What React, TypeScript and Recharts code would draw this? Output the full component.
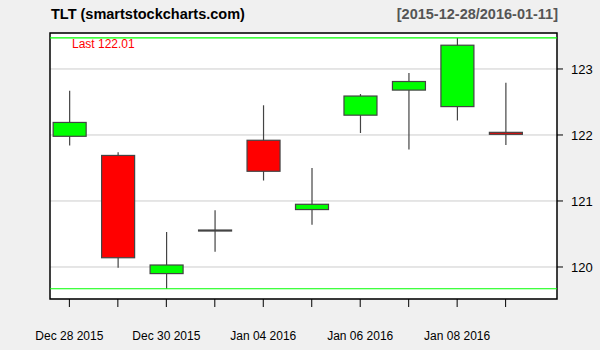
import {
  ComposedChart,
  Bar,
  XAxis,
  YAxis,
  CartesianGrid,
  ReferenceLine,
  ReferenceArea,
} from 'recharts';

const dates = [
  'Dec 28 2015', 'Dec 29 2015', 'Dec 30 2015', 'Dec 31 2015', 'Jan 04 2016',
  'Jan 05 2016', 'Jan 06 2016', 'Jan 07 2016', 'Jan 08 2016', 'Jan 11 2016',
];
const opens = [121.98, 121.69, 119.9, 120.56, 121.92, 120.87, 122.3, 122.68, 122.43, 122.04];
const highs = [122.67, 121.74, 120.53, 120.86, 122.45, 121.5, 122.62, 122.94, 123.47, 122.79];
const lows = [121.84, 119.99, 119.67, 120.23, 121.31, 120.64, 122.03, 121.78, 122.22, 121.85];
const closes = [122.19, 120.14, 120.03, 120.56, 121.45, 120.95, 122.59, 122.81, 123.36, 122.01];
const yTicks = [120, 121, 122, 123];
const xDomain: [number, number] = [-0.4, 10.06];
const yDomain: [number, number] = [119.515, 123.545];
const lastValue = 122.01;

const data = dates.map((d, i) => ({
  idx: i,
  date: d,
  open: opens[i],
  high: highs[i],
  low: lows[i],
  close: closes[i],
  range: [lows[i], highs[i]],
}));

const maxHigh = Math.max(...highs);
const minLow = Math.min(...lows);

const Candle = (props: any) => {
  const { x, y, width, height, payload } = props;
  if (x == null || y == null) return null;
  const { open, close, high, low } = payload;
  const top = Math.min(y, y + height);
  const h = Math.abs(height);
  const k = h / (high - low);
  const py = (v: number) => top + (high - v) * k;
  const cx = x + width / 2;
  const bTop = py(Math.max(open, close));
  const bBot = py(Math.min(open, close));
  const fill = close > open ? '#00ff00' : close < open ? '#ff0000' : '#444444';
  return (
    <g>
      <line x1={cx} x2={cx} y1={top} y2={top + h} stroke="#444" strokeWidth={1.2} />
      <rect
        x={x}
        y={bTop}
        width={width}
        height={Math.max(bBot - bTop, 1)}
        fill={fill}
        stroke="#444"
        strokeWidth={1.2}
      />
    </g>
  );
};

const font = '"Liberation Sans", Arial, sans-serif';

export default function App() {
  return (
    <div
      style={{
        position: 'fixed',
        left: 0,
        top: 0,
        width: 600,
        height: 350,
        background: '#f0f0f0',
        fontFamily: font,
      }}
    >
      <ComposedChart
        width={600}
        height={350}
        data={data}
        margin={{ top: 33, right: 0, left: 50, bottom: 0 }}
      >
        <CartesianGrid vertical={false} stroke="#cccccc" fill="#ffffff" />
        <XAxis
          dataKey="idx"
          type="number"
          domain={xDomain}
          allowDataOverflow
          ticks={dates.map((_, i) => i)}
          interval={0}
          tickFormatter={(v: number) => (v % 2 === 0 ? dates[v] : '')}
          tickSize={8}
          tickMargin={24}
          axisLine={false}
          tickLine={{ stroke: '#000' }}
          tick={{ fill: '#000', fontSize: 12, fontFamily: font }}
          height={51}
        />
        <YAxis
          orientation="right"
          domain={yDomain}
          allowDataOverflow
          ticks={yTicks}
          width={43}
          tickSize={6}
          tickMargin={8}
          axisLine={false}
          tickLine={{ stroke: '#000' }}
          tick={{ fill: '#000', fontSize: 13, fontFamily: font }}
        />
        <ReferenceLine y={maxHigh} stroke="#00ff00" strokeWidth={1.2}
          label={(p: any) => (
            <text x={p.viewBox.x + 22} y={p.viewBox.y + 10} fill="#ff0000" fontSize={12} fontFamily={font}>
              {`Last ${lastValue.toFixed(2)}`}
            </text>
          )}
        />
        <ReferenceLine y={minLow} stroke="#00ff00" strokeWidth={1.2} />
        <Bar dataKey="range" shape={<Candle />} barSize={33} isAnimationActive={false} />
        <ReferenceArea
          x1={xDomain[0]}
          x2={xDomain[1]}
          y1={yDomain[0]}
          y2={yDomain[1]}
          fill="none"
          fillOpacity={0}
          stroke="#000"
          strokeWidth={1.5}
          ifOverflow="visible"
        />
      </ComposedChart>
      <div style={{ position: 'absolute', left: 51, top: 6, fontSize: 14.5, fontWeight: 'bold', color: '#000' }}>
        TLT (smartstockcharts.com)
      </div>
      <div style={{ position: 'absolute', right: 42, top: 6, fontSize: 14.5, fontWeight: 'bold', color: '#555' }}>
        [2015-12-28/2016-01-11]
      </div>
    </div>
  );
}
